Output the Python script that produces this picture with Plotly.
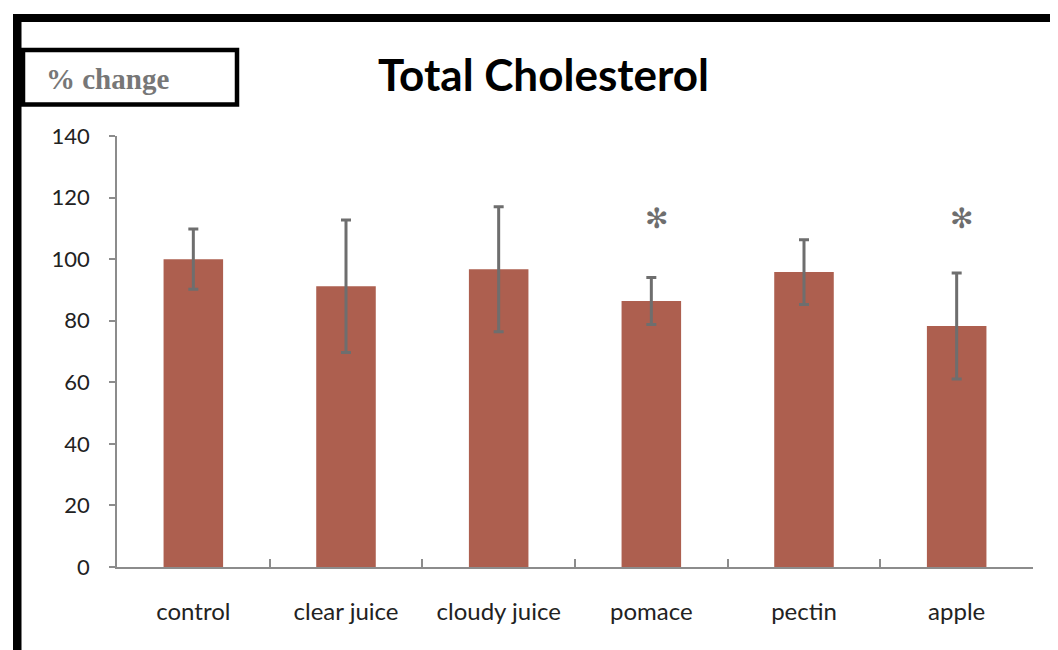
import plotly.graph_objects as go

categories = ["control", "clear juice", "cloudy juice", "pomace", "pectin", "apple"]
values = [100, 91.2, 96.7, 86.4, 95.8, 78.3]
errors = [9.8, 21.5, 20.3, 7.6, 10.5, 17.2]
significant = ["pomace", "apple"]
star_level = 113.3
y_ticks = [0, 20, 40, 60, 80, 100, 120, 140]

OFF = 8  # default page body margin
W, H = 1058 - OFF, 650 - OFF
L, T = 117 - OFF, 136 - OFF
R, B = W - (1033 - OFF), H - (567 - OFF)
PW, PH = W - L - R, H - T - B

def px(x):  # page pixel -> paper
    return (x - OFF - L) / PW

def py(y):
    return (H - B - (y - OFF)) / PH

fig = go.Figure()
fig.add_trace(go.Bar(
    x=categories, y=values,
    marker=dict(color="#AD5F4F", line=dict(width=0)),
    error_y=dict(type="data", array=errors, visible=True,
                 color="#6E6E6E", thickness=3, width=5),
    width=0.39,
))

for c in significant:
    fig.add_annotation(x=c, y=star_level, text="✻", showarrow=False,
                       xshift=5, yshift=0,
                       font=dict(family="DejaVu Sans", size=28, color="#6E6E6E"))

# title
fig.add_annotation(xref="paper", yref="paper", x=px(543), y=py(74),
                   text="<b>Total Cholesterol</b>", showarrow=False,
                   xanchor="center", yanchor="middle",
                   font=dict(family="Lato", size=44, color="#000000"))
# % change label
fig.add_annotation(xref="paper", yref="paper", x=px(44), y=py(79),
                   text="<b>% change</b>", showarrow=False,
                   xanchor="left", yanchor="middle",
                   font=dict(family="Liberation Serif", size=29, color="#777777"))

shapes = [
    dict(type="rect", xref="paper", yref="paper", x0=px(13), x1=px(21.5), y0=py(14), y1=py(660),
         fillcolor="black", line=dict(width=0), layer="above"),
    dict(type="rect", xref="paper", yref="paper", x0=px(13), x1=px(1070), y0=py(14), y1=py(22),
         fillcolor="black", line=dict(width=0), layer="above"),
    dict(type="rect", xref="paper", yref="paper", x0=px(23), x1=px(237), y0=py(50), y1=py(104.5),
         fillcolor="rgba(0,0,0,0)", line=dict(color="black", width=4.5), layer="above"),
]
fig.update_layout(shapes=shapes)

fig.update_layout(
    width=W, height=H,
    margin=dict(l=L, r=R, t=T, b=B, pad=0),
    paper_bgcolor="white", plot_bgcolor="white",
    showlegend=False,
    bargap=0.6,
    font=dict(family="Lato", size=21, color="#222222"),
)
fig.update_xaxes(
    showline=True, linecolor="#8C8C8C", linewidth=1.5,
    ticks="inside", tickson="boundaries", ticklen=8, tickcolor="#8C8C8C", tickwidth=1.5,
    showgrid=False, ticklabelstandoff=22,
    tickfont=dict(family="Lato", size=24, color="#222222"),
)
fig.update_yaxes(
    range=[0, 140], tickvals=y_ticks, showline=True, linecolor="#8C8C8C", linewidth=1.5,
    ticks="outside", ticklen=6, tickcolor="#8C8C8C", tickwidth=1.5,
    showgrid=False, zeroline=False, ticklabelstandoff=15,
    tickfont=dict(family="Lato", size=22, color="#222222"),
)

fig.write_html("out.html")
